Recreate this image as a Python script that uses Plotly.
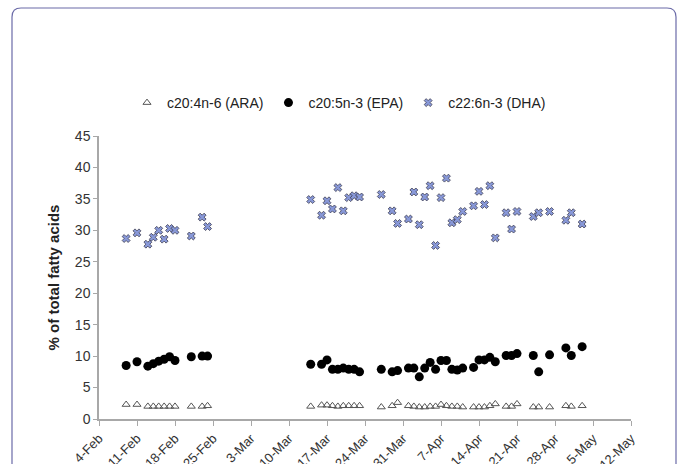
import plotly.graph_objects as go

dates = [
    "2008-02-09", "2008-02-11", "2008-02-13", "2008-02-14", "2008-02-15", "2008-02-16",
    "2008-02-17", "2008-02-18", "2008-02-21", "2008-02-23", "2008-02-24",
    "2008-03-14", "2008-03-16", "2008-03-17", "2008-03-18", "2008-03-19", "2008-03-20",
    "2008-03-21", "2008-03-22", "2008-03-23", "2008-03-27", "2008-03-29", "2008-03-30",
    "2008-04-01", "2008-04-02", "2008-04-03", "2008-04-04", "2008-04-05", "2008-04-06",
    "2008-04-07", "2008-04-08", "2008-04-09", "2008-04-10", "2008-04-11",
    "2008-04-13", "2008-04-14", "2008-04-15", "2008-04-16", "2008-04-17",
    "2008-04-19", "2008-04-20", "2008-04-21",
    "2008-04-24", "2008-04-25", "2008-04-27", "2008-04-30", "2008-05-01", "2008-05-03",
]

ara = [
    2.3, 2.3, 2.0, 2.0, 2.0, 2.0, 2.0, 2.0, 2.0, 2.0, 2.1,
    2.0, 2.2, 2.2, 2.1, 2.0, 2.1, 2.1, 2.1, 2.1, 1.9, 2.1, 2.6,
    2.1, 2.0, 1.9, 1.9, 2.0, 2.0, 2.3, 2.1, 2.0, 2.0, 1.9,
    1.9, 1.9, 1.9, 2.1, 2.4,
    2.0, 2.0, 2.4,
    1.9, 1.9, 1.9, 2.1, 2.0, 2.1,
]

epa = [
    8.5, 9.1, 8.4, 8.8, 9.2, 9.5, 9.9, 9.3, 9.9, 10.0, 10.0,
    8.7, 8.7, 9.4, 7.9, 7.9, 8.1, 7.9, 7.9, 7.5, 7.9, 7.5, 7.7,
    8.1, 8.1, 6.7, 8.1, 9.0, 7.9, 9.3, 9.3, 7.9, 7.8, 8.1,
    8.2, 9.4, 9.4, 9.8, 9.1,
    10.1, 10.1, 10.4,
    10.1, 7.5, 10.2, 11.3, 10.1, 11.5,
]

dha = [
    28.7, 29.6, 27.8, 28.9, 30.0, 28.6, 30.3, 30.0, 29.1, 32.1, 30.6,
    34.9, 32.4, 34.7, 33.4, 36.8, 33.1, 35.2, 35.5, 35.3, 35.7, 33.1, 31.1,
    31.8, 36.1, 30.9, 35.3, 37.1, 27.6, 35.2, 38.3, 31.2, 31.7, 33.0,
    33.9, 36.2, 34.1, 37.1, 28.8,
    32.8, 30.2, 33.0,
    32.2, 32.8, 33.0, 31.6, 32.8, 31.0,
]

tick_dates = [
    "2008-02-04", "2008-02-11", "2008-02-18", "2008-02-25", "2008-03-03", "2008-03-10",
    "2008-03-17", "2008-03-24", "2008-03-31", "2008-04-07", "2008-04-14", "2008-04-21",
    "2008-04-28", "2008-05-05", "2008-05-12",
]
tick_labels = [
    "4-Feb", "11-Feb", "18-Feb", "25-Feb", "3-Mar", "10-Mar", "17-Mar", "24-Mar",
    "31-Mar", "7-Apr", "14-Apr", "21-Apr", "28-Apr", "5-May", "12-May",
]

FONT = "Liberation Sans, Arial, sans-serif"

fig = go.Figure()
fig.add_trace(go.Scatter(
    x=dates, y=ara, mode="markers", name="c20:4n-6 (ARA)",
    marker=dict(symbol="triangle-up-open", size=7, color="#555555", line=dict(width=1)),
))
fig.add_trace(go.Scatter(
    x=dates, y=epa, mode="markers", name="c20:5n-3 (EPA)",
    marker=dict(symbol="circle", size=9, color="#000000"),
))
fig.add_trace(go.Scatter(
    x=dates, y=dha, mode="markers", name="c22:6n-3 (DHA)",
    marker=dict(symbol="x", size=7, color="#8898d8", line=dict(width=0.8, color="#3c3c50")),
))

# plot area: x 99..631 px, y 136..419 px
L, R, T, B = 99, 631, 136, 419
W, H = R - L, B - T

def px(x):
    return (x - L) / W

def py(y):
    return (B - y) / H

x0, x1, y0, y1 = 12, 676, 8, 490
r = 9
path = (
    f"M {px(x0 + r)},{py(y0)} L {px(x1 - r)},{py(y0)} "
    f"Q {px(x1)},{py(y0)} {px(x1)},{py(y0 + r)} "
    f"L {px(x1)},{py(y1 - r)} Q {px(x1)},{py(y1)} {px(x1 - r)},{py(y1)} "
    f"L {px(x0 + r)},{py(y1)} Q {px(x0)},{py(y1)} {px(x0)},{py(y1 - r)} "
    f"L {px(x0)},{py(y0 + r)} Q {px(x0)},{py(y0)} {px(x0 + r)},{py(y0)} Z"
)
fig.add_shape(type="path", path=path, xref="paper", yref="paper",
              line=dict(color="#6b6ba8", width=1.2), layer="below")

fig.update_layout(
    width=680, height=464,
    margin=dict(l=L, r=680 - R, t=T, b=464 - B, autoexpand=False),
    paper_bgcolor="white", plot_bgcolor="white",
    font=dict(family=FONT, size=12, color="#333333"),
    showlegend=True,
    legend=dict(
        orientation="h", x=px(127), y=py(103), xanchor="left", yanchor="middle",
        font=dict(family=FONT, size=14, color="#222222"),
        itemwidth=30, bgcolor="rgba(0,0,0,0)",
    ),
    xaxis=dict(
        type="date", range=["2008-02-04", "2008-05-12"],
        tickvals=tick_dates, ticktext=tick_labels, tickangle=-45,
        showgrid=False, zeroline=False, showline=True, linecolor="#a8a8a8", linewidth=1.5,
        ticks="outside", ticklen=5, tickcolor="#a8a8a8",
        tickfont=dict(family=FONT, size=13, color="#333333"), automargin=False,
    ),
    yaxis=dict(
        range=[0, 45], tickvals=[0, 5, 10, 15, 20, 25, 30, 35, 40, 45],
        showgrid=False, zeroline=False, showline=True, linecolor="#a8a8a8", linewidth=1.5,
        ticks="outside", ticklen=4, tickcolor="#a8a8a8",
        tickfont=dict(family=FONT, size=14, color="#333333"), automargin=False,
        title=dict(text="<b>% of total fatty acids</b>", standoff=12,
                   font=dict(family=FONT, size=15, color="#222222")),
    ),
)

fig.write_html("out.html")
